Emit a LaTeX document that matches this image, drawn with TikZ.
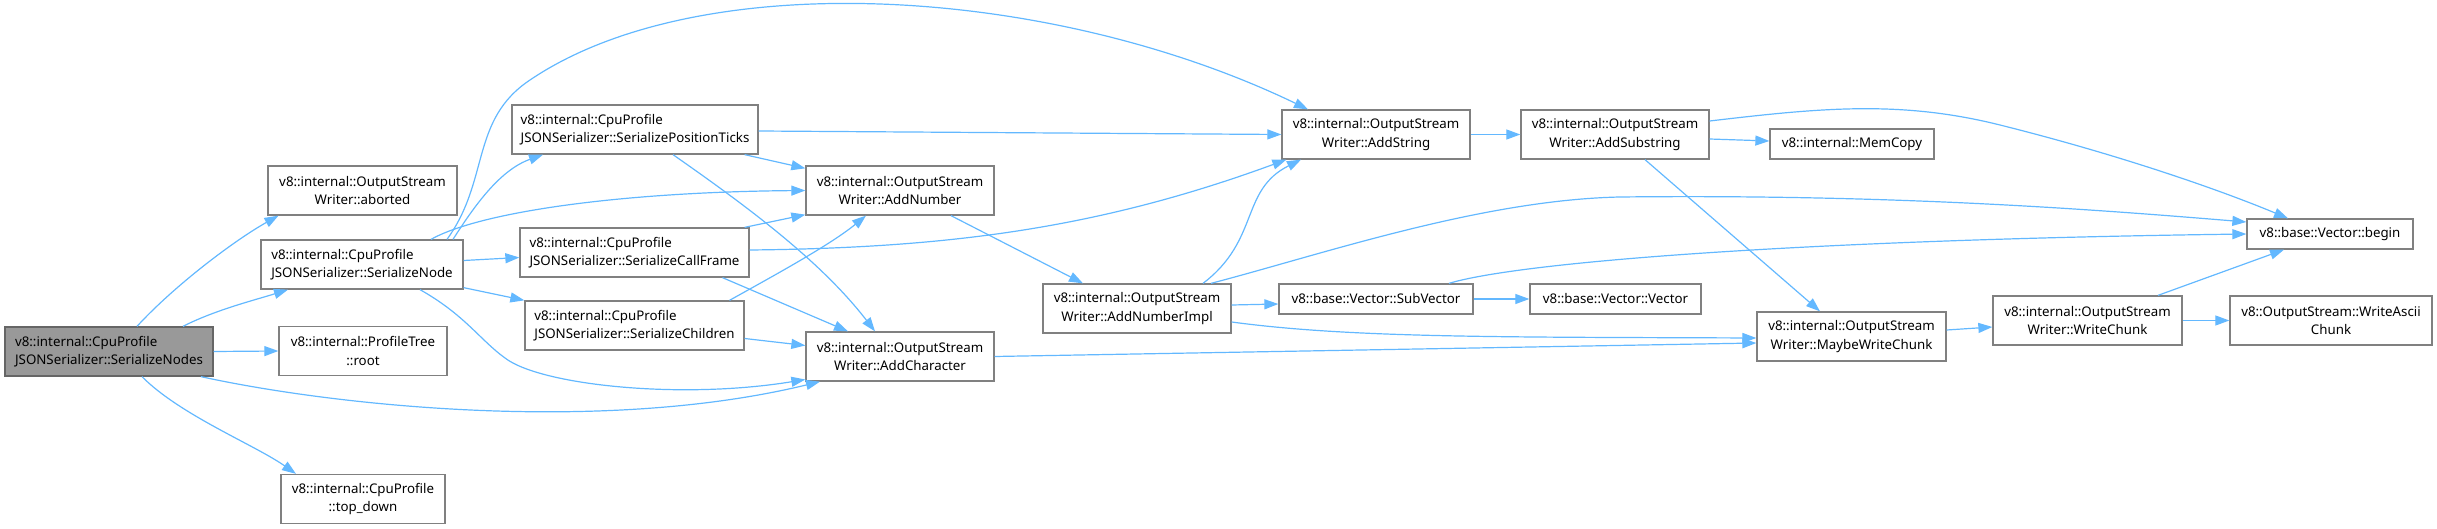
\documentclass[tikz,border=0pt]{standalone}
\usepackage{fontspec}
\setmainfont{Noto Sans}
\usepackage{tikz}
\usetikzlibrary{arrows.meta}
\definecolor{edgeblue}{RGB}{99, 184, 255}
\definecolor{boxgray}{RGB}{128, 128, 128}
\definecolor{rootfill}{RGB}{153, 153, 153}
\definecolor{rootline}{RGB}{102, 102, 102}
\tikzset{
  fnbox/.style={rectangle, draw=boxgray, fill=white, line width=1.3pt, minimum height=49pt, inner sep=3pt, align=center, font=\fontsize{13.3}{18.5}\selectfont},
  fnline/.style={fnbox, minimum height=30pt},
  fnleft/.style={fnbox, align=left},
  rootbox/.style={fnleft, draw=rootline, fill=rootfill},
  callarrow/.style={draw=edgeblue, line width=1.2pt, -{Triangle[length=14pt, width=10pt]}}
}

\begin{document}
\begin{tikzpicture}[x=1pt, y=-1pt]
    \useasboundingbox (0,0) rectangle (2437,529);

    % Caller
    \node[rootbox, minimum width=208pt] (SerNodes) at (109,351.5) {v8::internal::CpuProfile\\JSONSerializer::SerializeNodes};

    % First level
    \node[fnbox, minimum width=189pt] (Aborted) at (362.5,190.5) {v8::internal::OutputStream\\Writer::aborted};
    \node[fnleft, minimum width=202pt] (SerNode) at (362,264.5) {v8::internal::CpuProfile\\JSONSerializer::SerializeNode};
    \node[fnbox, minimum width=168pt] (TreeRoot) at (363,351) {v8::internal::ProfileTree\\::root};
    \node[fnbox, minimum width=164pt] (TopDown) at (363,499) {v8::internal::CpuProfile\\::top\_down};

    % Serializer helpers
    \node[fnleft, minimum width=246pt] (PosTicks) at (635,129.5) {v8::internal::CpuProfile\\JSONSerializer::SerializePositionTicks};
    \node[fnleft, minimum width=229pt] (CallFrame) at (634.5,252.5) {v8::internal::CpuProfile\\JSONSerializer::SerializeCallFrame};
    \node[fnleft, minimum width=219pt] (Children) at (634.5,325.5) {v8::internal::CpuProfile\\JSONSerializer::SerializeChildren};

    % Output stream writer
    \node[fnbox, minimum width=188pt] (AddNumber) at (900,190.5) {v8::internal::OutputStream\\Writer::AddNumber};
    \node[fnbox, minimum width=188pt] (AddChar) at (900,356.5) {v8::internal::OutputStream\\Writer::AddCharacter};
    \node[fnbox, minimum width=188pt] (NumImpl) at (1137,308.5) {v8::internal::OutputStream\\Writer::AddNumberImpl};
    \node[fnbox, minimum width=188pt] (AddString) at (1376,134.5) {v8::internal::OutputStream\\Writer::AddString};
    \node[fnline, minimum width=194pt] (SubVector) at (1376,299) {v8::base::Vector::SubVector};
    \node[fnbox, minimum width=188pt] (AddSubstr) at (1615,134.5) {v8::internal::OutputStream\\Writer::AddSubstring};
    \node[fnline, minimum width=171pt] (VecCtor) at (1615.5,299) {v8::base::Vector::Vector};
    \node[fnline, minimum width=164pt] (MemCopy) at (1852,144) {v8::internal::MemCopy};
    \node[fnbox, minimum width=189pt] (MaybeChunk) at (1851.5,336.5) {v8::internal::OutputStream\\Writer::MaybeWriteChunk};
    \node[fnbox, minimum width=189pt] (WriteChunk) at (2087.5,320.5) {v8::internal::OutputStream\\Writer::WriteChunk};
    \node[fnline, minimum width=166pt] (VecBegin) at (2330,234) {v8::base::Vector::begin};
    \node[fnbox, minimum width=202pt] (AsciiChunk) at (2331,320.5) {v8::OutputStream::WriteAscii\\Chunk};

    % Calls of SerializeNodes
    \draw[callarrow] ([xshift=28pt]SerNodes.north) .. controls (175,285) and (235,240) .. ([xshift=-84pt]Aborted.south);
    \draw[callarrow] ([xshift=74pt]SerNodes.north) .. controls (215,310) and (255,300) .. ([xshift=-74pt]SerNode.south);
    \draw[callarrow] (SerNodes.east) -- (TreeRoot.west);
    \draw[callarrow] ([xshift=92pt]SerNodes.south) .. controls (330,405) and (600,435) .. ([xshift=-80pt]AddChar.south);
    \draw[callarrow] ([xshift=33pt]SerNodes.south) .. controls (180,415) and (255,445) .. ([xshift=-67pt]TopDown.north);

    % Calls of SerializeNode
    \draw[callarrow] ([xshift=91pt]SerNode.north) .. controls (475,205) and (500,170) .. ([xshift=-92pt]PosTicks.south);
    \draw[callarrow] ([xshift=85pt]SerNode.north) .. controls (490,180) and (470,120) .. (530,80) .. controls (700,-35) and (1050,-15) .. ([xshift=-68pt]AddString.north);
    \draw[callarrow] ([xshift=69pt]SerNode.north) .. controls (480,212) and (620,192) .. (AddNumber.west);
    \draw[callarrow] ([yshift=4pt]SerNode.east) -- ([yshift=-5pt]CallFrame.west);
    \draw[callarrow] ([yshift=2pt]SerNode.south east) -- (Children.north west);
    \draw[callarrow] ([xshift=58pt]SerNode.south) .. controls (465,315) and (480,340) .. (505,358) .. controls (540,385) and (680,400) .. ([yshift=-23pt]AddChar.west);

    % Calls of the helpers
    \draw[callarrow] ([yshift=-1.5pt]PosTicks.east) -- (AddString.west);
    \draw[callarrow] ([xshift=-14pt]PosTicks.south east) -- ([yshift=-3pt]AddNumber.north west);
    \draw[callarrow] ([xshift=38pt]PosTicks.south) .. controls (745,205) and (820,260) .. ([xshift=-25pt]AddChar.north);
    \draw[callarrow] ([xshift=-5pt]CallFrame.north east) -- ([yshift=1pt]AddNumber.south west);
    \draw[callarrow] ([yshift=2.5pt]CallFrame.east) .. controls (950,248) and (1100,228) .. ([xshift=5pt]AddString.south west);
    \draw[callarrow] ([xshift=88pt]CallFrame.south) -- ([xshift=-52pt]AddChar.north);
    \draw[callarrow] ([xshift=95pt]Children.north) .. controls (775,275) and (830,245) .. ([xshift=-34pt]AddNumber.south);
    \draw[callarrow] ([yshift=-13pt]Children.east) -- ([yshift=11pt]AddChar.west);

    % Writer internals
    \draw[callarrow] ([xshift=51pt]AddNumber.south) -- ([xshift=-54pt]NumImpl.north);
    \draw[callarrow] ([xshift=66pt]NumImpl.north) .. controls (1260,240) and (1240,190) .. ([xshift=-75pt]AddString.south);
    \draw[callarrow] ([xshift=74pt]NumImpl.north) .. controls (1320,255) and (1480,200) .. (1620,197) .. controls (1900,194) and (2100,210) .. ([yshift=12pt]VecBegin.west);
    \draw[callarrow] ([yshift=3.5pt]NumImpl.east) -- ([yshift=-5pt]SubVector.west);
    \draw[callarrow] ([yshift=-13.5pt]NumImpl.east) .. controls (1350,338) and (1500,337) .. ([yshift=-1.5pt]MaybeChunk.west);
    \draw[callarrow] (AddChar.east) -- ([yshift=-6.5pt]MaybeChunk.west);
    \draw[callarrow] (AddString.east) -- (AddSubstr.west);
    \draw[callarrow] ([yshift=13.5pt]AddSubstr.east) .. controls (1820,108) and (1900,100) .. (2000,125) .. controls (2120,155) and (2220,190) .. ([xshift=-42pt]VecBegin.north);
    \draw[callarrow] ([yshift=-4.5pt]AddSubstr.east) -- ([yshift=3pt]MemCopy.west);
    \draw[callarrow] ([xshift=30pt]AddSubstr.south) -- ([xshift=-31.5pt]MaybeChunk.north);
    \draw[callarrow] ([xshift=73pt]SubVector.north) .. controls (1520,262) and (1800,240) .. (VecBegin.west);
    \draw[callarrow] (SubVector.east) -- (VecCtor.west);
    \draw[callarrow] ([yshift=6.5pt]MaybeChunk.east) -- ([yshift=-6.5pt]WriteChunk.west);
    \draw[callarrow] ([xshift=70.5pt]WriteChunk.north) -- ([xshift=-46pt]VecBegin.south);
    \draw[callarrow] (WriteChunk.east) -- (AsciiChunk.west);
\end{tikzpicture}
\end{document}
